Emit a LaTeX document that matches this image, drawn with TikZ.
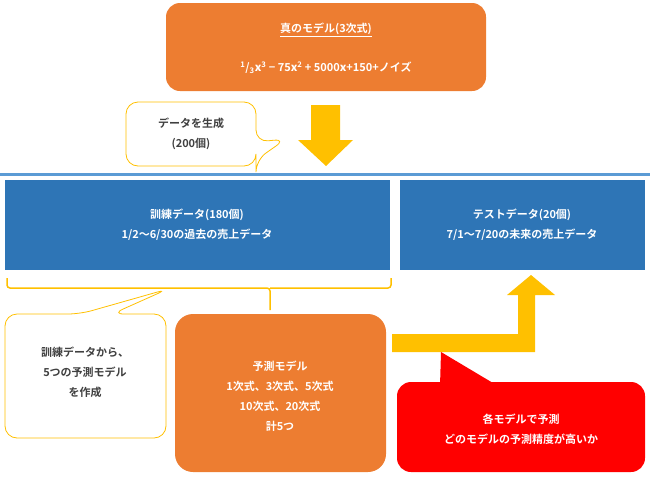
\documentclass[tikz,border=0pt]{standalone}
\usepackage{fontspec}
\setmainfont{Noto Sans CJK JP}[BoldFont={Noto Sans CJK JP Bold}]
\usetikzlibrary{positioning}
\definecolor{boxorange}{HTML}{ED7D31}
\definecolor{boxblue}{HTML}{2E75B6}
\definecolor{lineblue}{HTML}{5B9BD5}
\definecolor{arrowgold}{HTML}{FFC000}
\definecolor{textgray}{HTML}{404040}
\newcommand{\xvar}{\textit{x}}
\newcommand{\truemodel}{\textsuperscript{1}/\textsubscript{3}\xvar\textsuperscript{3} − 75\xvar\textsuperscript{2} + 5000\xvar+150+ノイズ}
\tikzset{
  plain/.style={font=\fontsize{11}{14}\selectfont\bfseries, align=center},
  whitetext/.style={plain, text=white},
  graytext/.style={plain, text=textgray},
  callout/.style={draw=arrowgold, fill=white, line width=0.8pt, rounded corners=12pt},
}
\begin{document}
\begin{tikzpicture}[x=1pt,y=-1pt]
  \useasboundingbox (0,0) rectangle (650,477);
  % true model
  \fill[boxorange, rounded corners=14pt] (166,3) rectangle (486,91);
  \node[whitetext] (truth) at (326,30) {\underline{真のモデル(3次式)}};
  \node[whitetext] (formula) at (326,68) {\truemodel};
  % generate callout
  \draw[callout] (256,142) -- (286,139) -- (256,160) -- (256,166) -- (126,166) -- (126,102) -- (256,102) -- cycle;
  \node[graytext] (gen) at (191,134) {データを生成\\[6pt](200個)};
  \fill[arrowgold] (311,105) -- (340,105) -- (340,140) -- (353,140) -- (326,166) -- (298,140) -- (311,140) -- cycle;
  % split line
  \fill[lineblue] (0,173) rectangle (650,176);
  % data boxes
  \fill[boxblue] (5,180) rectangle (390,270);
  \node[whitetext] (train) at (197,225) {訓練データ(180個)\\[6pt]1/2〜6/30の過去の売上データ};
  \fill[boxblue] (400,180) rectangle (645,270);
  \node[whitetext] (test) at (522,225) {テストデータ(20個)\\[6pt]7/1〜7/20の未来の売上データ};
  % brace
  \draw[arrowgold, line width=1.5pt, rounded corners=3pt] (7,278) -- (7,288) -- (270,288) -- (270,310)
    (270,288) -- (391,288) -- (391,278);
  % left callout
  \draw[callout] (80,314) -- (168,289) -- (112,314) -- (166,314) -- (166,438) -- (5,438) -- (5,314) -- cycle;
  \node[graytext] (make) at (85,372) {訓練データから、\\[6pt]5つの予測モデル\\[6pt]を作成};
  % predict models
  \fill[boxorange, rounded corners=18pt] (175,314) rectangle (386,472);
  \node[whitetext] (models) at (280,396) {予測モデル\\[6pt]1次式、3次式、5次式\\[6pt]10次式、20次式\\[6pt]計5つ};
  % L arrow
  \fill[arrowgold] (392,334) -- (518,334) -- (518,295) -- (507,295) -- (531,275) -- (555,295) -- (535,295) -- (535,352) -- (392,352) -- cycle;
  % red callout
  \fill[red, rounded corners=14pt] (397,382) rectangle (645,472);
  \fill[red] (440,386) -- (441,352) -- (498,386) -- cycle;
  \node[whitetext] (eval) at (521,429) {各モデルで予測\\[6pt]どのモデルの予測精度が高いか};
\end{tikzpicture}
\end{document}
